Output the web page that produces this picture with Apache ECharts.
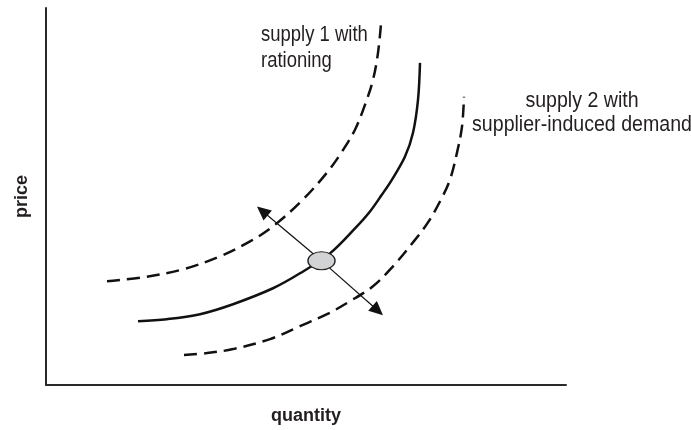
<!DOCTYPE html>
<html>
<head>
<meta charset="utf-8">
<script src="https://cdn.jsdelivr.net/npm/echarts@6/dist/echarts.min.js"></script>
<style>
html,body{margin:0;padding:0;background:#fff;}
#chart{width:691px;height:430px;}
</style>
</head>
<body>
<div id="chart"></div>
<script>
// Axis ranges (arbitrary units)
const xRange = [0, 520];
const yRange = [0, 378];

// Curves [quantity, price]
const supply1Rationing = [[61,104],[97,108],[137,116],[174,129],[204,144],[227,159],[257,186],[281,213],[296,234],[309,256],[319,281],[327,306],[332,333],[335,362]];
const baseSupply = [[92,64],[121,66],[154,71],[187,81],[227,97],[254,112],[284,132],[309,157],[324,174],[336,191],[346,206],[359,229],[367,253],[372,286],[374,323]];
const supply2Induced = [[138,30],[161,32],[187,36],[224,46],[254,59],[281,71],[304,84],[327,99],[347,119],[367,143],[382,163],[395,186],[404,206],[411,233],[416,259],[418,289]];

// Equilibrium point and arrow tips
const equilibrium = [275.5, 124.5];
const arrowTips = [[211,179],[337,70]];

// Texts
const label1 = ['supply 1 with', 'rationing'];
const label2 = ['supply 2 with', 'supplier-induced demand'];
const xName = 'quantity';
const yName = 'price';

const FONT = '"Liberation Sans Narrow", "Liberation Sans", Arial, sans-serif';
const ARROW_LEN = 14;

const chart = echarts.init(document.getElementById('chart'), null, {renderer: 'canvas'});

const curveStyle = (dashed) => ({
  type: 'line', smooth: 0.35, symbol: 'none', silent: true,
  lineStyle: {color: '#111', width: 2.5, type: dashed ? [13, 7] : 'solid', cap: 'butt'},
  z: 2
});

// arrow symbol is centred on the line end, so pull the end back by half its length
const arrowEnds = arrowTips.map(t => {
  const dx = t[0] - equilibrium[0], dy = t[1] - equilibrium[1];
  const d = Math.sqrt(dx * dx + dy * dy);
  const k = (d - ARROW_LEN / 2) / d;
  return [equilibrium[0] + dx * k, equilibrium[1] + dy * k];
});

chart.setOption({
  animation: false,
  backgroundColor: '#fff',
  grid: {left: 46, right: 125, top: 8, bottom: 44, containLabel: false},
  xAxis: {
    type: 'value', min: xRange[0], max: xRange[1],
    name: xName, nameLocation: 'middle', nameGap: 22,
    nameTextStyle: {fontFamily: FONT, fontWeight: 'bold', fontSize: 18, color: '#231f20'},
    axisLine: {show: true, lineStyle: {color: '#2a2a2a', width: 2}},
    axisTick: {show: false}, axisLabel: {show: false}, splitLine: {show: false}
  },
  yAxis: {
    type: 'value', min: yRange[0], max: yRange[1],
    name: yName, nameLocation: 'middle', nameGap: 15, nameRotate: 90,
    nameTextStyle: {fontFamily: FONT, fontWeight: 'bold', fontSize: 18, color: '#231f20'},
    axisLine: {show: true, lineStyle: {color: '#2a2a2a', width: 2}},
    axisTick: {show: false}, axisLabel: {show: false}, splitLine: {show: false}
  },
  series: [
    Object.assign({name: 'supply 1 with rationing', data: supply1Rationing}, curveStyle(true)),
    Object.assign({name: 'supply', data: baseSupply}, curveStyle(false)),
    Object.assign({name: 'supply 2 with supplier-induced demand', data: supply2Induced}, curveStyle(true)),
    {
      type: 'line', name: 'shift arrows', data: [], silent: true, z: 3,
      markLine: {
        silent: true,
        symbol: ['none', 'triangle'], symbolSize: [13, ARROW_LEN],
        lineStyle: {color: '#111', width: 1.2, type: 'solid'},
        itemStyle: {color: '#111'},
        label: {show: false},
        data: arrowEnds.map(t => [{coord: equilibrium}, {coord: t}])
      }
    },
    {
      type: 'scatter', name: 'equilibrium', data: [equilibrium],
      symbol: 'circle', symbolSize: [27, 18], silent: true, z: 6,
      itemStyle: {color: '#d2d3d5', opacity: 1, borderColor: '#222', borderWidth: 1.2}
    }
  ],
  graphic: [
    {type: 'text', x: 261, y: 22, scaleX: 0.84,
     style: {text: label1.join('\n'), font: '22px ' + FONT, fill: '#231f20', lineHeight: 26, align: 'left', verticalAlign: 'top'}},
    {type: 'text', x: 582, y: 89, scaleX: 0.89,
     style: {text: label2.join('\n'), font: '22px ' + FONT, fill: '#231f20', lineHeight: 24, align: 'center', verticalAlign: 'top'}}
  ]
});
</script>
</body>
</html>
